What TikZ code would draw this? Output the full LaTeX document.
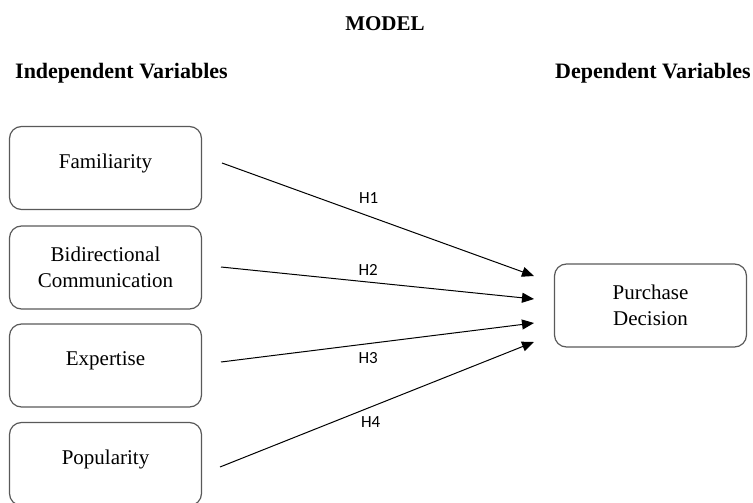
\documentclass[tikz,border=0pt]{standalone}
\usepackage{fontspec}
\setmainfont{Liberation Serif}
\newfontfamily\hypfont{Carlito}
\usetikzlibrary{arrows.meta}

\begin{document}
\begin{tikzpicture}[x=1pt,y=-1pt]
% Styles
\tikzstyle{var box}=[draw=black!65, line width=1.2pt, rounded corners=12pt, minimum width=192pt, minimum height=83pt, align=center, inner sep=0pt, font=\fontsize{21}{26}\selectfont]
\tikzstyle{one line}=[text height=14pt, text depth=14pt]
\tikzstyle{heading}=[font=\fontsize{22}{26}\selectfont\bfseries, inner sep=0pt]
\tikzstyle{hyp}=[-{Triangle[length=12pt,width=10pt]}, line width=1pt]
\tikzstyle{hyp label}=[font=\hypfont\fontsize{17}{20}\selectfont, inner sep=0pt]

\useasboundingbox (0,0) rectangle (753,503);

% headings
\node[heading, anchor=base, font=\fontsize{21}{25}\selectfont\bfseries] (model) at (385,31) {MODEL};
\node[heading, anchor=base west] (indep) at (15,78) {Independent Variables};
\node[heading, anchor=base west] (dep) at (555,78) {Dependent Variables};

% draw the nodes
\node[var box, one line] (fam) at (105.5,168) {Familiarity};
\node[var box] (bidi) at (105.5,267.5) {Bidirectional\\Communication};
\node[var box, one line] (expe) at (105.5,365.5) {Expertise};
\node[var box, one line] (popu) at (105.5,464) {Popularity};
\node[var box] (purch) at (650.5,305.5) {Purchase\\Decision};

% arrow ends
\coordinate (s1) at (222,163);
\coordinate (s2) at (221,267);
\coordinate (s3) at (221,362);
\coordinate (s4) at (220,467);
\coordinate (e1) at (534,276);
\coordinate (e2) at (534,299);
\coordinate (e3) at (534,323);
\coordinate (e4) at (534,342);

%fill path
\draw[hyp] (s1) -- node[hyp label, pos=.47, above=12pt] {H1} (e1);
\draw[hyp] (s2) -- node[hyp label, pos=.47, above=6pt] {H2} (e2);
\draw[hyp] (s3) -- node[hyp label, pos=.47, below=8.5pt] {H3} (e3);
\draw[hyp] (s4) -- node[hyp label, pos=.48, below=9pt] {H4} (e4);

\end{tikzpicture}
\end{document}
